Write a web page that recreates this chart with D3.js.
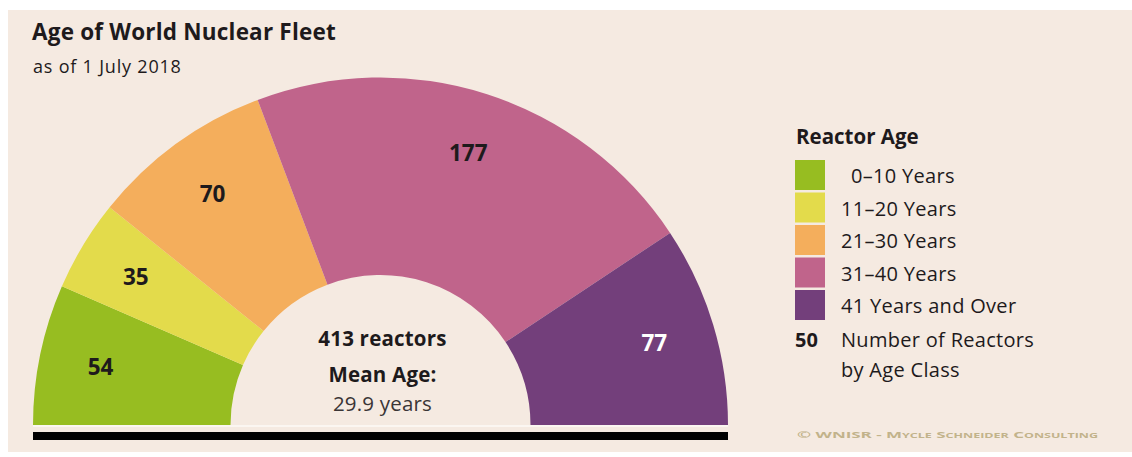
<!DOCTYPE html>
<html>
<head>
<meta charset="utf-8">
<script src="https://cdn.jsdelivr.net/npm/d3@7"></script>
<style>
  body { margin: 0; background: #ffffff; }
  svg { display: block; }
  text { font-family: "Open Sans", "Noto Sans", sans-serif; fill: #1e1a1c; }
</style>
</head>
<body>
<script>
// reactor counts by age class
var ageClasses = ['0\u201310 Years', '11\u201320 Years', '21\u201330 Years', '31\u201340 Years', '41 Years and Over'];
var reactorCounts = [54, 35, 70, 177, 77];
var palette = ['#97bd21', '#e3db4b', '#f4ae5c', '#c0648b', '#733f7b'];
var labelColors = ['#1e1a1c', '#1e1a1c', '#1e1a1c', '#1e1a1c', '#ffffff'];

var totalReactors = 413,
    meanAge = '29.9 years';

var w = 1132,
    h = 457;

var cx = 380.5, cy = 425, // centre of the half ring
    rOuter = 347.5,
    rInner = 150,
    rLabel = 286;

var svg = d3.select('body')
    .append('svg')
    .attr('width', w)
    .attr('height', h);

// beige panel
svg.append('rect')
    .attr('x', 8)
    .attr('y', 10)
    .attr('width', w - 8)
    .attr('height', 442)
    .attr('fill', '#f5eae1');

// titles
svg.append('text')
    .attr('x', 32).attr('y', 40)
    .attr('font-size', 22.5).attr('font-weight', 'bold')
    .attr('letter-spacing', 0.2)
    .text('Age of World Nuclear Fleet');

svg.append('text')
    .attr('x', 33).attr('y', 73)
    .attr('font-size', 18)
    .attr('letter-spacing', 0.8)
    .text('as of 1 July 2018');

// half donut
var color = d3.scaleOrdinal().domain(ageClasses).range(palette);

var pie = d3.pie()
    .sort(null)
    .startAngle(-Math.PI / 2)
    .endAngle(Math.PI / 2)
    .value(function(d){ return d.count; });

var data = ageClasses.map(function(c, i){
    return {cls: c, count: reactorCounts[i], labelColor: labelColors[i]};
});

var arc = d3.arc().innerRadius(rInner).outerRadius(rOuter);
var labelArc = d3.arc().innerRadius(rLabel).outerRadius(rLabel);

var donut = svg.append('g')
    .attr('transform', 'translate(' + cx + ',' + cy + ')');

var slices = donut.selectAll('g')
    .data(pie(data))
    .enter()
    .append('g');

slices.append('path')
    .attr('d', arc)
    .attr('fill', function(d){ return color(d.data.cls); });

slices.append('text')
    .attr('transform', function(d){ return 'translate(' + labelArc.centroid(d) + ')'; })
    .attr('text-anchor', 'middle')
    .attr('dy', '0.36em')
    .attr('font-size', 22.5).attr('font-weight', 'bold')
    .style('fill', function(d){ return d.data.labelColor; })
    .text(function(d){ return d.data.count; });

// thin pale rule under the ring, then the black base bar
svg.append('rect')
    .attr('x', cx - rOuter).attr('y', cy)
    .attr('width', rOuter * 2).attr('height', 2)
    .attr('fill', '#fbf6f1');

svg.append('rect')
    .attr('x', cx - rOuter).attr('y', 432)
    .attr('width', rOuter * 2).attr('height', 8)
    .attr('fill', '#000000');

// centre text
var centre = svg.append('g')
    .attr('text-anchor', 'middle');

centre.append('text')
    .attr('x', cx + 2).attr('y', 346)
    .attr('font-size', 20.5).attr('font-weight', 'bold')
    .attr('letter-spacing', 0.2)
    .text(totalReactors + ' reactors');

centre.append('text')
    .attr('x', cx + 2).attr('y', 382)
    .attr('font-size', 20.5).attr('font-weight', 'bold')
    .attr('letter-spacing', 0.2)
    .text('Mean Age:');

centre.append('text')
    .attr('x', cx + 2).attr('y', 411)
    .attr('font-size', 20.5)
    .attr('letter-spacing', 0.2)
    .style('fill', '#3a3536')
    .text(meanAge);

// legend
var legend = svg.append('g');

legend.append('text')
    .attr('x', 796).attr('y', 144)
    .attr('font-size', 20.5).attr('font-weight', 'bold')
    .text('Reactor Age');

var rows = legend.selectAll('g.row')
    .data(ageClasses)
    .enter()
    .append('g')
    .attr('class', 'row')
    .attr('transform', function(d, i){ return 'translate(795,' + (160 + i * 32.5) + ')'; });

rows.append('rect')
    .attr('width', 30).attr('height', 30)
    .attr('fill', function(d){ return color(d); });

rows.append('text')
    .attr('x', function(d, i){ return i === 0 ? 56 : 46; })
    .attr('y', 23)
    .attr('font-size', 20)
    .attr('letter-spacing', 0.3)
    .text(function(d){ return d; });

legend.append('text')
    .attr('x', 795).attr('y', 347)
    .attr('font-size', 20).attr('font-weight', 'bold')
    .text('50');

legend.append('text')
    .attr('x', 841).attr('y', 347)
    .attr('font-size', 20)
    .attr('letter-spacing', 0.3)
    .text('Number of Reactors');

legend.append('text')
    .attr('x', 841).attr('y', 377)
    .attr('font-size', 20)
    .attr('letter-spacing', 0.3)
    .text('by Age Class');

// credit line
svg.append('text')
    .attr('x', 797).attr('y', 438)
    .attr('font-family', '"DejaVu Sans", sans-serif')
    .attr('font-size', 9.5)
    .attr('font-weight', 'bold')
    .attr('textLength', 301)
    .attr('lengthAdjust', 'spacingAndGlyphs')
    .style('font-variant', 'small-caps')
    .style('fill', '#c2b38b')
    .text('\u00a9 WNISR - Mycle Schneider Consulting');
</script>
</body>
</html>
